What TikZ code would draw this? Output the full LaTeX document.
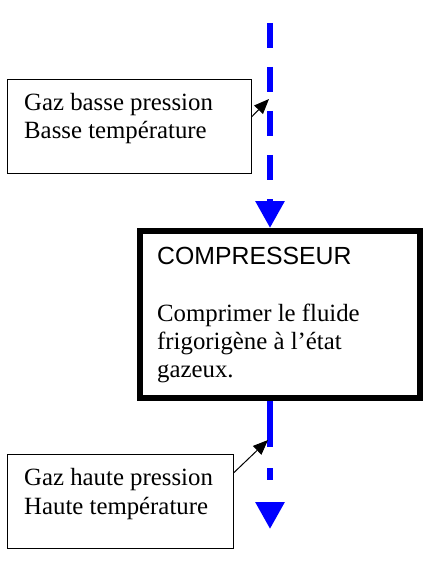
\documentclass[tikz,border=0pt]{standalone}
\usepackage{fontspec}
\setmainfont{Liberation Serif}
\newfontfamily\arialfont{Liberation Sans}
\usetikzlibrary{arrows.meta}
\begin{document}
\begin{tikzpicture}[x=1pt,y=-1pt,
  thinbox/.style={draw=black, line width=1pt, rectangle, inner sep=0pt},
  thickbox/.style={draw=black, line width=6pt, rectangle, inner sep=0pt},
  txt/.style={anchor=base west, inner sep=0pt, font=\fontsize{24.8}{28}\selectfont},
  stxt/.style={anchor=base west, inner sep=0pt, font=\arialfont\fontsize{24.8}{28}\selectfont},
  flow/.style={draw=blue, line width=6pt, -{Triangle[width=28pt,length=27pt]}},
  pointer/.style={draw=black, line width=1pt, -{Triangle[width=12pt,length=15pt]}}]
\useasboundingbox (0,0) rectangle (443,564);
% boxes
\node[thinbox, minimum width=244pt, minimum height=93pt] (b1) at (129,126.5) {};
\node[thickbox, minimum width=280pt, minimum height=167pt] (b2) at (280,314.5) {};
\node[thinbox, minimum width=226pt, minimum height=94pt] (b3) at (120,501.5) {};
% texts
\node[txt] (t1a) at (24,111) {Gaz basse pression};
\node[txt] (t1b) at (24,139) {Basse température};
\node[stxt] (t2a) at (157,264) {COMPRESSEUR};
\node[txt] (t2b) at (157,321) {Comprimer le fluide};
\node[txt] (t2c) at (157,349) {frigorigène à l’état};
\node[txt] (t2d) at (157,377) {gazeux.};
\node[txt] (t3a) at (24,485) {Gaz haute pression};
\node[txt] (t3b) at (24,514) {Haute température};
% flow arrows
\coordinate (top) at (270,23);
\coordinate (bot) at (270,529);
\draw[flow, dash pattern=on 25pt off 19pt] (top) -- (top |- b2.north);
\draw[flow, dash pattern=on 46pt off 21pt on 12pt off 40pt] (top |- b2.south) -- (bot);
% pointers
\coordinate (p1) at (269,99);
\coordinate (p2) at (268,440);
\draw[pointer] (b1.east |- 0,117) -- (p1);
\draw[pointer] (b3.east |- 0,473) -- (p2);
\end{tikzpicture}
\end{document}
